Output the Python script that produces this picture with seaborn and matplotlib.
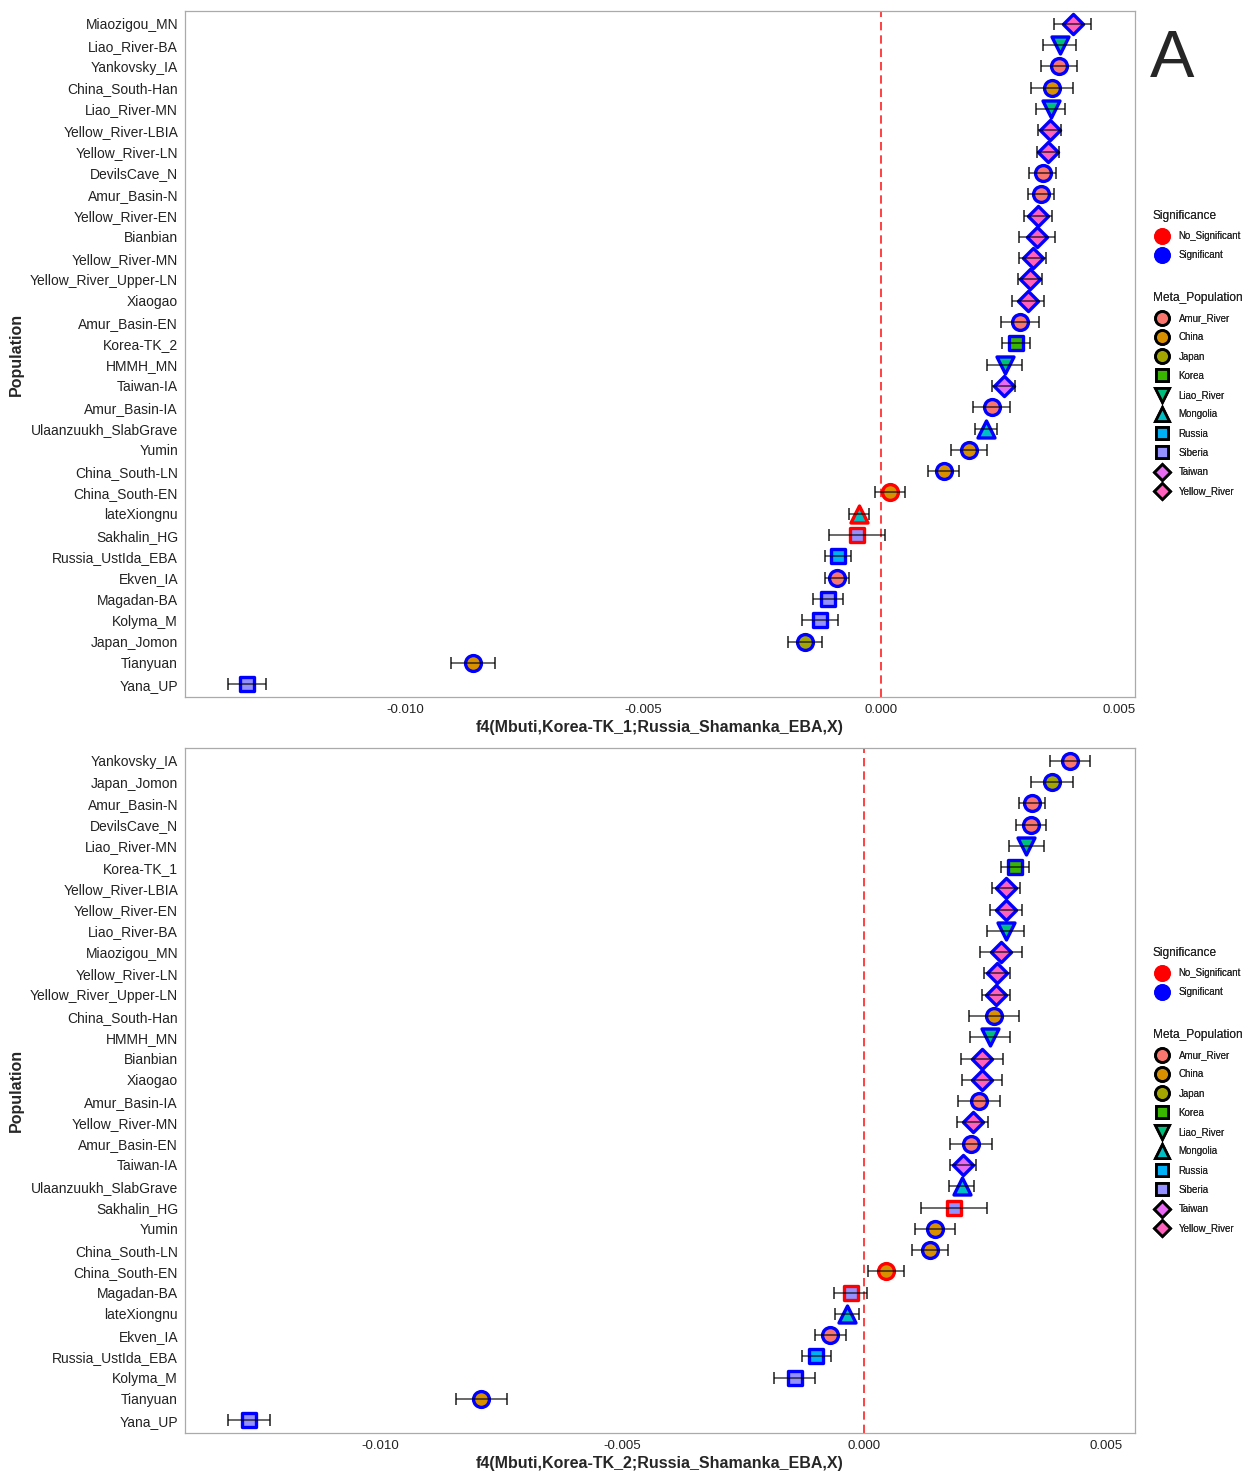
import matplotlib
matplotlib.use("Agg")
import matplotlib.pyplot as plt
from matplotlib.lines import Line2D
import seaborn as sb
import pandas as pd

# DATA
#-----------------------------------
pops_1 = ["Miaozigou_MN", "Liao_River-BA", "Yankovsky_IA", "China_South-Han", "Liao_River-MN",
          "Yellow_River-LBIA", "Yellow_River-LN", "DevilsCave_N", "Amur_Basin-N", "Yellow_River-EN",
          "Bianbian", "Yellow_River-MN", "Yellow_River_Upper-LN", "Xiaogao", "Amur_Basin-EN",
          "Korea-TK_2", "HMMH_MN", "Taiwan-IA", "Amur_Basin-IA", "Ulaanzuukh_SlabGrave",
          "Yumin", "China_South-LN", "China_South-EN", "lateXiongnu", "Sakhalin_HG",
          "Russia_UstIda_EBA", "Ekven_IA", "Magadan-BA", "Kolyma_M", "Japan_Jomon",
          "Tianyuan", "Yana_UP"]
f4_1 = [0.00403, 0.00376, 0.00374, 0.00359, 0.00357, 0.00355, 0.00351, 0.00340, 0.00336, 0.00330,
        0.00328, 0.00319, 0.00313, 0.00309, 0.00292, 0.00284, 0.00260, 0.00258, 0.00233, 0.00221,
        0.00185, 0.00132, 0.00019, -0.00046, -0.00050, -0.00090, -0.00092, -0.00111, -0.00128,
        -0.00160, -0.00857, -0.01332]
err_1 = [0.00039, 0.00035, 0.00038, 0.00044, 0.00030, 0.00024, 0.00023, 0.00029, 0.00027, 0.00029,
         0.00037, 0.00029, 0.00025, 0.00034, 0.00040, 0.00029, 0.00036, 0.00024, 0.00039, 0.00024,
         0.00037, 0.00032, 0.00032, 0.00021, 0.00059, 0.00027, 0.00026, 0.00032, 0.00037, 0.00036,
         0.00047, 0.00040]
sig_1 = ["Significant"] * 22 + ["No_Significant"] * 3 + ["Significant"] * 7

pops_2 = ["Yankovsky_IA", "Japan_Jomon", "Amur_Basin-N", "DevilsCave_N", "Liao_River-MN",
          "Korea-TK_1", "Yellow_River-LBIA", "Yellow_River-EN", "Liao_River-BA", "Miaozigou_MN",
          "Yellow_River-LN", "Yellow_River_Upper-LN", "China_South-Han", "HMMH_MN", "Bianbian",
          "Xiaogao", "Amur_Basin-IA", "Yellow_River-MN", "Amur_Basin-EN", "Taiwan-IA",
          "Ulaanzuukh_SlabGrave", "Sakhalin_HG", "Yumin", "China_South-LN", "China_South-EN",
          "Magadan-BA", "lateXiongnu", "Ekven_IA", "Russia_UstIda_EBA", "Kolyma_M",
          "Tianyuan", "Yana_UP"]
f4_2 = [0.00426, 0.00388, 0.00347, 0.00345, 0.00335, 0.00312, 0.00293, 0.00293, 0.00293, 0.00283,
        0.00275, 0.00273, 0.00269, 0.00260, 0.00244, 0.00244, 0.00238, 0.00225, 0.00221, 0.00205,
        0.00202, 0.00186, 0.00147, 0.00136, 0.00045, -0.00027, -0.00035, -0.00070, -0.00099,
        -0.00143, -0.00791, -0.01271]
err_2 = [0.00041, 0.00043, 0.00027, 0.00031, 0.00036, 0.00028, 0.00029, 0.00033, 0.00038, 0.00043,
         0.00026, 0.00029, 0.00052, 0.00041, 0.00043, 0.00041, 0.00043, 0.00032, 0.00043, 0.00027,
         0.00026, 0.00069, 0.00041, 0.00037, 0.00037, 0.00034, 0.00025, 0.00032, 0.00030, 0.00042,
         0.00053, 0.00044]
sig_2 = ["Significant"] * 21 + ["No_Significant"] + ["Significant"] * 2 + ["No_Significant"] * 2 + ["Significant"] * 6

meta_names = ["Amur_River", "China", "Japan", "Korea", "Liao_River",
              "Mongolia", "Russia", "Siberia", "Taiwan", "Yellow_River"]
meta_of = {
    "Miaozigou_MN": "Yellow_River", "Liao_River-BA": "Liao_River", "Yankovsky_IA": "Amur_River",
    "China_South-Han": "China", "Liao_River-MN": "Liao_River", "Yellow_River-LBIA": "Yellow_River",
    "Yellow_River-LN": "Yellow_River", "DevilsCave_N": "Amur_River", "Amur_Basin-N": "Amur_River",
    "Yellow_River-EN": "Yellow_River", "Bianbian": "Yellow_River", "Yellow_River-MN": "Yellow_River",
    "Yellow_River_Upper-LN": "Yellow_River", "Xiaogao": "Yellow_River", "Amur_Basin-EN": "Amur_River",
    "Korea-TK_2": "Korea", "Korea-TK_1": "Korea", "HMMH_MN": "Liao_River", "Taiwan-IA": "Taiwan",
    "Amur_Basin-IA": "Amur_River", "Ulaanzuukh_SlabGrave": "Mongolia", "Yumin": "China",
    "China_South-LN": "China", "China_South-EN": "China", "lateXiongnu": "Mongolia",
    "Sakhalin_HG": "Siberia", "Russia_UstIda_EBA": "Russia", "Ekven_IA": "Amur_River",
    "Magadan-BA": "Siberia", "Kolyma_M": "Siberia", "Japan_Jomon": "Japan",
    "Tianyuan": "China", "Yana_UP": "Siberia",
}

# STYLE
#-----------------------------------
palette = dict(zip(meta_names, ["#F8766D", "#D89000", "#A3A500", "#39B600", "#00BF7D",
                                "#00BFC4", "#00B0F6", "#9590FF", "#E76BF3", "#FF62BC"]))
shapes = dict(zip(meta_names, ["o", "o", "o", "s", "v", "^", "s", "s", "D", "D"]))
sizes = {"o": 130, "s": 105, "v": 150, "^": 150, "D": 105}
sig_colors = {"No_Significant": "#FF0000", "Significant": "#0000FF"}


def make_df(pops, f4, err, sig):
    df = pd.DataFrame({"Population": pops, "f4": f4, "err": err, "Significance": sig})
    df["Meta_Population"] = df["Population"].map(meta_of)
    df["pos"] = range(len(df))
    return df


# PANEL
#-----------------------------------
def draw_panel(ax, df, xlabel, xlim):
    ax.axvline(0, color="#FF2020", linestyle=(0, (5, 3)), linewidth=1.2, zorder=1)
    for (sig, meta), part in df.groupby(["Significance", "Meta_Population"]):
        sb.scatterplot(data=part, x="f4", y="pos", ax=ax, color=palette[meta],
                       marker=shapes[meta], s=sizes[shapes[meta]],
                       edgecolor=sig_colors[sig], linewidth=2.4, legend=False, zorder=3)
    ax.errorbar(df["f4"], df["pos"], xerr=df["err"], fmt="none", ecolor="black",
                elinewidth=1.1, capsize=4, capthick=1.3, alpha=0.75, zorder=4)

    n = len(df)
    ax.set_ylim(n - 0.4, -0.6)
    ax.set_yticks(df["pos"])
    ax.set_yticklabels(df["Population"])
    ax.set_xlim(*xlim)
    ax.set_xticks([-0.010, -0.005, 0.000, 0.005])
    ax.set_xticklabels(["-0.010", "-0.005", "0.000", "0.005"])
    ax.tick_params(axis="both", labelsize=10, colors="#555555", labelcolor="#222222",
                   length=3, pad=2)
    ax.tick_params(axis="x", labelsize=9.5)
    ax.set_xlabel(xlabel, fontsize=11.5, fontweight="bold", labelpad=3)
    ax.set_ylabel("Population", fontsize=11.5, fontweight="bold", labelpad=4)
    ax.grid(False)
    for s in ax.spines.values():
        s.set_color("#AAAAAA")
        s.set_linewidth(0.9)


def add_legends(fig, top):
    sig_handles = [Line2D([], [], marker="o", linestyle="", markersize=11,
                          markerfacecolor=c, markeredgecolor=c, label=k)
                   for k, c in sig_colors.items()]
    meta_handles = [Line2D([], [], marker=shapes[m], linestyle="",
                           markersize=10 if shapes[m] in "ov^" else 8.5,
                           markerfacecolor=palette[m], markeredgecolor="black",
                           markeredgewidth=2, label=m) for m in meta_names]
    opts = dict(loc="upper left", frameon=False, fontsize=7, title_fontsize=8.6,
                labelspacing=0.95, handletextpad=0.8, handlelength=1.85,
                alignment="left", borderaxespad=0)
    leg1 = fig.legend(handles=sig_handles, title="Significance",
                      bbox_to_anchor=(1149 / 1243, 1 - top / 1474), **opts)
    leg2 = fig.legend(handles=meta_handles, title="Meta_Population",
                      bbox_to_anchor=(1149 / 1243, 1 - (top + 82) / 1474), **opts)
    fig.add_artist(leg1)
    fig.add_artist(leg2)


# MAIN PIPELINE
#-----------------------------------
def main():
    sb.set_style("white")
    plt.rcParams["font.family"] = ["Liberation Sans", "DejaVu Sans"]

    df1 = make_df(pops_1, f4_1, err_1, sig_1)
    df2 = make_df(pops_2, f4_2, err_2, sig_2)

    fig = plt.figure(figsize=(12.43, 14.74), dpi=100)
    ax1 = fig.add_axes([185 / 1243, 1 - 697 / 1474, 950 / 1243, 686 / 1474])
    ax2 = fig.add_axes([185 / 1243, 1 - 1433 / 1474, 950 / 1243, 685 / 1474])

    draw_panel(ax1, df1, "f4(Mbuti,Korea-TK_1;Russia_Shamanka_EBA,X)", (-0.01462, 0.00534))
    draw_panel(ax2, df2, "f4(Mbuti,Korea-TK_2;Russia_Shamanka_EBA,X)", (-0.01403, 0.0056))

    add_legends(fig, 206)
    add_legends(fig, 943)

    fig.text(1172 / 1243, 1 - 60 / 1474, "A", fontsize=48, ha="center", va="center")

    plt.savefig("out.png", dpi=100)


if __name__ == "__main__":
    main()
